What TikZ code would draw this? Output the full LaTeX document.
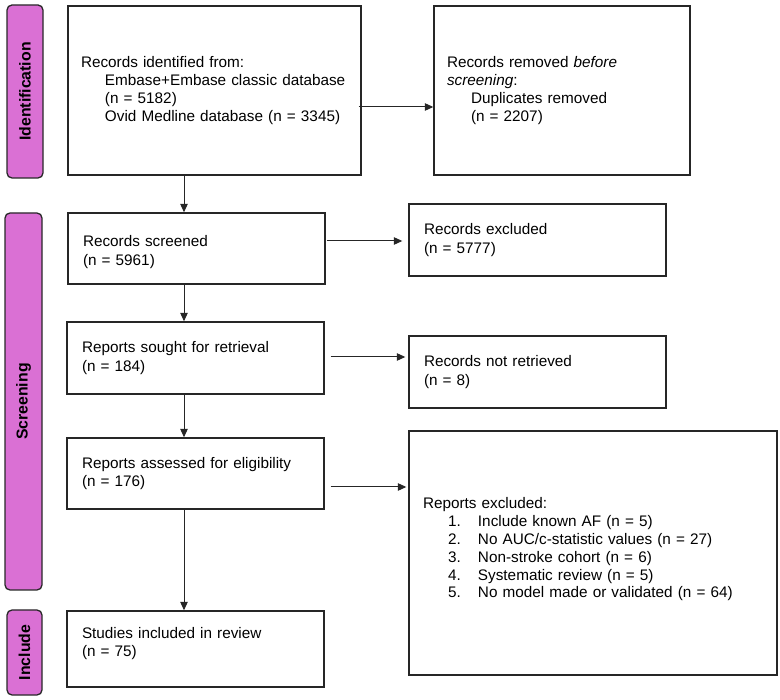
\documentclass[tikz,border=0pt]{standalone}
\usepackage{fontspec}
\setmainfont{Liberation Sans}
\usetikzlibrary{arrows.meta}
\definecolor{pillfill}{RGB}{218,112,212}
\definecolor{pilledge}{RGB}{40,40,40}
\tikzset{
  boxnode/.style={draw=black!85, line width=1.4pt, align=left, anchor=center, inner ysep=0pt,
    font=\fontsize{15.3}{18.3}\selectfont},
  pill/.style={draw=pilledge, fill=pillfill, line width=1.3pt, rounded corners=5pt, rotate=90,
    inner sep=0pt, font=\fontsize{15.8}{18}\selectfont\bfseries},
  arr/.style={draw=black!85, line width=1pt, -{Triangle[length=8.5pt,width=7.5pt]}},
}
\begin{document}
\begin{tikzpicture}[x=1pt,y=-1pt]
\useasboundingbox (0,0) rectangle (780,700);
% phase pills
\node[pill, minimum width=173pt, minimum height=36pt] (pid) at (25,91.5) {Identification};
\node[pill, minimum width=377pt, minimum height=37pt] (psc) at (23.5,401.5) {Screening};
\node[pill, minimum width=85pt, minimum height=35pt] (pin) at (24.5,652.5) {Include};
% boxes
\node[boxnode, inner xsep=13pt, text width=267pt, minimum height=169pt] (b1) at (214.5,90.5)
  {Records identified from:\\
   \hspace*{24pt}Embase+Embase classic database\\
   \hspace*{24pt}(n = 5182)\\
   \hspace*{24pt}Ovid Medline database (n = 3345)};
\node[boxnode, inner xsep=13pt, text width=230pt, minimum height=169pt] (b2) at (562,90.5)
  {Records removed \textit{before}\\
   \textit{screening}:\\
   \hspace*{24pt}Duplicates removed\\
   \hspace*{24pt}(n = 2207)};
\node[boxnode, inner xsep=15pt, text width=227pt, minimum height=71pt] (scr) at (196.5,248.5)
  {\mbox{}\\[0pt]Records screened\\(n = 5961)};
\node[boxnode, inner xsep=15pt, text width=227pt, minimum height=72pt] (exc) at (537.5,240)
  {Records excluded\\(n = 5777)};
\node[boxnode, inner xsep=15pt, text width=227pt, minimum height=72pt] (sou) at (195.5,358)
  {Reports sought for retrieval\\(n = 184)};
\node[boxnode, inner xsep=15pt, text width=227pt, minimum height=72pt] (nret) at (537.5,372)
  {Records not retrieved\\(n = 8)};
\node[boxnode, inner xsep=15pt, text width=227pt, minimum height=71pt] (ass) at (195.5,473.5)
  {Reports assessed for eligibility\\(n = 176)};
\node[boxnode, inner xsep=14pt, text width=340pt, minimum height=244pt] (rex) at (593,553)
  {Reports excluded:\\[-0.5pt]
   \hspace*{25pt}\makebox[30pt][l]{1.}Include known AF (n = 5)\\[-0.5pt]
   \hspace*{25pt}\makebox[30pt][l]{2.}No AUC/c-statistic values (n = 27)\\[-0.5pt]
   \hspace*{25pt}\makebox[30pt][l]{3.}Non-stroke cohort (n = 6)\\[-0.5pt]
   \hspace*{25pt}\makebox[30pt][l]{4.}Systematic review (n = 5)\\[-0.5pt]
   \hspace*{25pt}\makebox[30pt][l]{5.}No model made or validated (n = 64)\\[-8pt]\mbox{}};
\node[boxnode, inner xsep=15pt, text width=227pt, minimum height=76pt] (inc) at (195.5,649)
  {Studies included in review\\(n = 75)\\[-4pt]\mbox{}};
% helper coordinates
\coordinate (vx) at (184,0);
\coordinate (r1) at (0,107);
\coordinate (r2) at (0,241);
\coordinate (r3) at (0,357);
\coordinate (r4) at (0,487);
% vertical arrows
\draw[arr] (b1.south -| vx) -- (scr.north -| vx);
\draw[arr] (scr.south -| vx) -- (sou.north -| vx);
\draw[arr] (sou.south -| vx) -- (ass.north -| vx);
\draw[arr] (ass.south -| vx) -- (inc.north -| vx);
% horizontal arrows
\draw[arr, shorten <=-3pt] (b1.east |- r1) -- (b2.west |- r1);
\draw[arr, shorten <=1pt, shorten >=6pt] (scr.east |- r2) -- (exc.west |- r2);
\draw[arr, shorten <=6pt, shorten >=3pt] (sou.east |- r3) -- (nret.west |- r3);
\draw[arr, shorten <=6pt, shorten >=2pt] (ass.east |- r4) -- (rex.west |- r4);
\end{tikzpicture}
\end{document}
